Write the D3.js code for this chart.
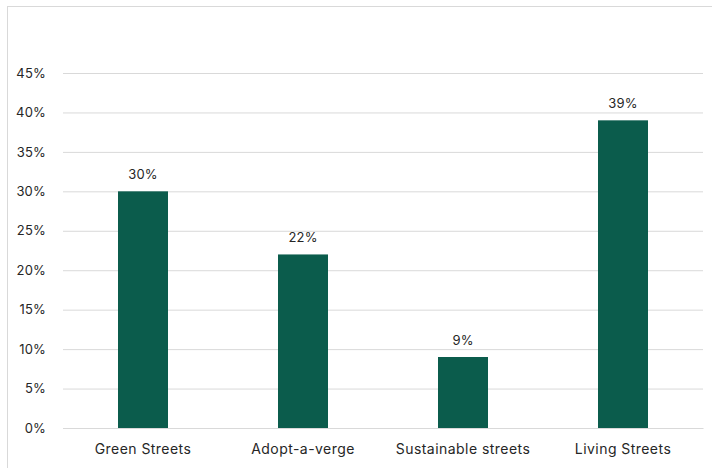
<!DOCTYPE html>
<html>
<head>
<meta charset="utf-8">
<script src="https://cdn.jsdelivr.net/npm/d3@7"></script>
<style>
  html, body { margin: 0; padding: 0; background: #fff; }
  svg { display: block; }
  text { font-family: Inter, "Open Sans", sans-serif; letter-spacing: 0.45px; }
</style>
</head>
<body>
<div id="chart"></div>
<script>
// Share of respondents choosing each street programme
const categories = ["Green Streets", "Adopt-a-verge", "Sustainable streets", "Living Streets"];
const shares = [30, 22, 9, 39];
const yTicks = [0, 5, 10, 15, 20, 25, 30, 35, 40, 45];

const W = 712, H = 468;
const margin = { left: 63, right: 9, top: 73, bottom: 40 };

const svg = d3.select("#chart").append("svg")
  .attr("width", W).attr("height", H);

// outer chart frame
svg.append("rect")
  .attr("x", 7.5).attr("y", 6.5)
  .attr("width", W + 20).attr("height", H + 20)
  .attr("fill", "#fff").attr("stroke", "#d9d9d9").attr("stroke-width", 1);

const x = d3.scaleBand()
  .domain(categories)
  .range([margin.left, W - margin.right])
  .paddingInner(0.6875).paddingOuter(0.34375);

const y = d3.scaleLinear()
  .domain([0, 45])
  .range([H - margin.bottom, margin.top]);

// horizontal gridlines via a left axis with full-width ticks
const yAxis = d3.axisLeft(y)
  .tickValues(yTicks)
  .tickSize(-(W - margin.right - margin.left))
  .tickPadding(17)
  .tickFormat(d => d + "%");

const gy = svg.append("g")
  .attr("transform", `translate(${margin.left},0)`)
  .call(yAxis);
gy.select(".domain").remove();
gy.selectAll(".tick line").attr("stroke", "#d9d9d9").attr("stroke-width", 1);
gy.selectAll(".tick text")
  .attr("fill", "#262626")
  .style("font-size", "13px")
  .style("letter-spacing", "0.2px");

// bars
svg.append("g").selectAll("rect")
  .data(categories)
  .join("rect")
  .attr("x", d => x(d))
  .attr("width", x.bandwidth())
  .attr("y", (d, i) => y(shares[i]))
  .attr("height", (d, i) => y(0) - y(shares[i]))
  .attr("fill", "#0b5c4c");

// value labels above bars
svg.append("g").selectAll("text")
  .data(categories)
  .join("text")
  .attr("x", d => x(d) + x.bandwidth() / 2)
  .attr("y", (d, i) => y(shares[i]) - 12)
  .attr("text-anchor", "middle")
  .attr("fill", "#262626")
  .style("font-size", "13px")
  .style("letter-spacing", "0.2px")
  .text((d, i) => shares[i] + "%");

// category axis
const xAxis = d3.axisBottom(x).tickSize(0).tickPadding(16);
const gx = svg.append("g")
  .attr("transform", `translate(0,${y(0)})`)
  .call(xAxis);
gx.select(".domain").attr("stroke", "#d9d9d9");
gx.selectAll(".tick text")
  .attr("fill", "#262626")
  .style("font-size", "14px");
</script>
</body>
</html>
